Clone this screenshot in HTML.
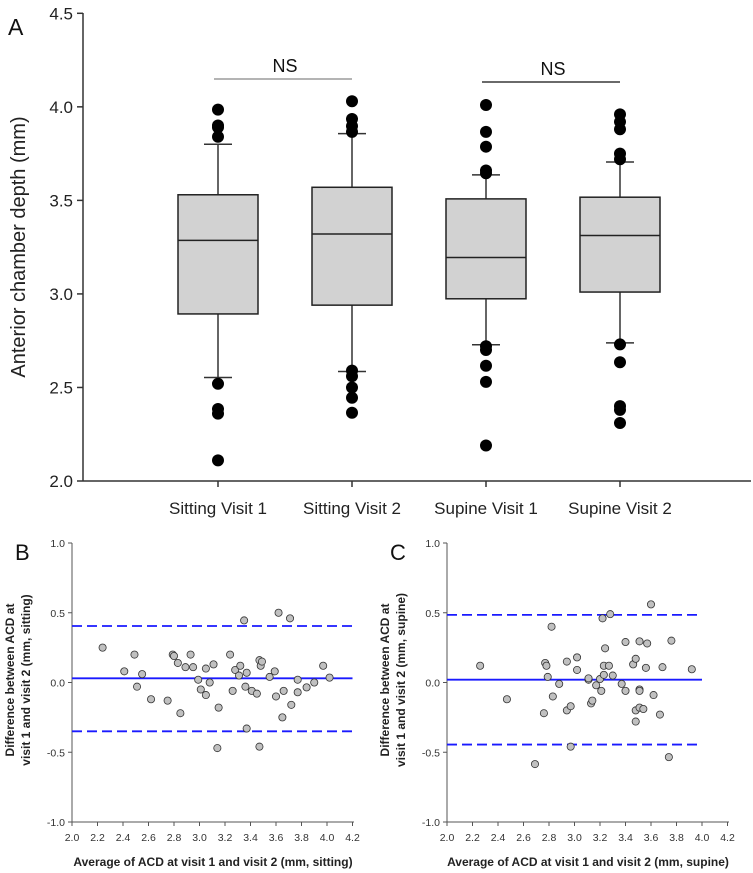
<!DOCTYPE html>
<html><head><meta charset="utf-8"><style>
body{margin:0;background:#fff}
svg{display:block;font-family:"Liberation Sans",Arial,sans-serif}
</style></head><body>
<svg id="chart" width="753" height="873" viewBox="0 0 753 873" xmlns="http://www.w3.org/2000/svg"></svg>
<script>
// Panel A data
const catLabels = ["Sitting Visit 1","Sitting Visit 2","Supine Visit 1","Supine Visit 2"];
const q1s = [2.893,2.94,2.974,3.010];
const medians = [3.286,3.32,3.195,3.312];
const q3s = [3.53,3.57,3.508,3.517];
const whiskLo = [2.553,2.585,2.728,2.738];
const whiskHi = [3.80,3.857,3.636,3.705];
const outliers = [
 [3.985,3.90,3.89,3.84,2.52,2.385,2.36,2.11],
 [4.03,3.935,3.897,3.866,2.59,2.56,2.50,2.445,2.365],
 [4.01,3.866,3.787,3.66,3.645,2.72,2.70,2.616,2.53,2.19],
 [3.96,3.92,3.88,3.75,3.72,2.73,2.635,2.40,2.38,2.31]
];
const yTicksA = [2.0,2.5,3.0,3.5,4.0,4.5];
// Panel B data
const bX = [2.24,2.41,2.49,2.51,2.55,2.62,2.75,2.79,2.80,2.83,2.85,2.89,2.93,2.95,2.99,3.01,3.05,3.05,3.08,3.11,3.14,3.15,3.24,3.26,3.28,3.31,3.32,3.35,3.37,3.36,3.37,3.41,3.45,3.47,3.48,3.49,3.47,3.55,3.59,3.60,3.62,3.65,3.66,3.71,3.72,3.77,3.77,3.84,3.90,3.97,4.02];
const bY = [0.25,0.08,0.20,-0.03,0.06,-0.12,-0.13,0.20,0.19,0.14,-0.22,0.11,0.20,0.11,0.02,-0.05,0.10,-0.09,0.00,0.13,-0.47,-0.18,0.20,-0.06,0.09,0.05,0.12,0.445,0.07,-0.03,-0.33,-0.06,-0.08,0.16,0.12,0.15,-0.46,0.04,0.08,-0.10,0.50,-0.25,-0.06,0.46,-0.16,-0.07,0.02,-0.035,0.00,0.12,0.035];
const bLines = [0.03,0.405,-0.35];
// Panel C data
const cX = [2.26,2.47,2.69,2.76,2.77,2.78,2.79,2.82,2.83,2.88,2.94,2.94,2.97,2.97,3.02,3.02,3.11,3.11,3.13,3.14,3.17,3.20,3.21,3.22,3.23,3.23,3.24,3.27,3.28,3.30,3.37,3.40,3.40,3.46,3.48,3.48,3.48,3.51,3.51,3.51,3.51,3.54,3.56,3.57,3.60,3.62,3.67,3.69,3.74,3.76,3.92];
const cY = [0.12,-0.12,-0.585,-0.22,0.14,0.12,0.04,0.40,-0.10,-0.01,0.15,-0.20,-0.17,-0.46,0.18,0.09,0.02,0.03,-0.15,-0.13,-0.02,0.025,-0.06,0.46,0.055,0.12,0.245,0.12,0.49,0.05,-0.01,0.29,-0.06,0.13,-0.20,0.17,-0.28,-0.05,0.295,-0.06,-0.18,-0.19,0.105,0.28,0.56,-0.09,-0.23,0.11,-0.535,0.30,0.095];
const cLines = [0.02,0.485,-0.445];
const xTicksBC = [2.0,2.2,2.4,2.6,2.8,3.0,3.2,3.4,3.6,3.8,4.0,4.2];
const yTicksBC = [-1.0,-0.5,0.0,0.5,1.0];

const NS = "http://www.w3.org/2000/svg";
const svg = document.getElementById('chart');
function mk(tag, attrs, parent){const e=document.createElementNS(NS,tag);for(const k in attrs)e.setAttribute(k,attrs[k]);(parent||svg).appendChild(e);return e;}
function txt(s, attrs, parent){const e=mk('text',attrs,parent);e.textContent=s;return e;}

// ---- Panel A ----
const gA = mk('g',{});


const yA = v => 481 - (v-2.0)/2.5*467.7;
const xA = i => 218 + i*134;
const ax = '#333';
mk('line',{x1:83,y1:13,x2:83,y2:481,stroke:ax,'stroke-width':1.5},gA);
mk('line',{x1:83,y1:481,x2:751,y2:481,stroke:ax,'stroke-width':1.5},gA);
yTicksA.forEach(t=>{
  mk('line',{x1:77,y1:yA(t),x2:83,y2:yA(t),stroke:ax,'stroke-width':1.5},gA);
  const l=txt(t.toFixed(1),{x:73,y:yA(t)+6,'text-anchor':'end','font-size':17,fill:'#222'},gA);
  
  
});
const yt=txt('Anterior chamber depth (mm)',{x:0,y:0,transform:'translate(25,247) rotate(-90)','text-anchor':'middle','font-size':20,fill:'#222'},gA);


const la=txt('A',{x:8,y:35,'font-size':23,fill:'#111'},gA);


catLabels.forEach((c,i)=>{
  const cx=xA(i);
  mk('line',{x1:cx,y1:481,x2:cx,y2:487,stroke:ax,'stroke-width':1.5},gA);
  const l=txt(c,{x:cx,y:514,'text-anchor':'middle','font-size':17,fill:'#222'},gA);
  
  
  const g=mk('g',{},gA);
  
  
  mk('line',{x1:cx,y1:yA(whiskHi[i]),x2:cx,y2:yA(whiskLo[i]),stroke:'#333','stroke-width':1.5},g);
  mk('line',{x1:cx-14,y1:yA(whiskHi[i]),x2:cx+14,y2:yA(whiskHi[i]),stroke:'#333','stroke-width':1.5},g);
  mk('line',{x1:cx-14,y1:yA(whiskLo[i]),x2:cx+14,y2:yA(whiskLo[i]),stroke:'#333','stroke-width':1.5},g);
  mk('rect',{x:cx-40,y:yA(q3s[i]),width:80,height:yA(q1s[i])-yA(q3s[i]),fill:'#d2d2d2',stroke:'#222','stroke-width':1.5},g);
  mk('line',{x1:cx-40,y1:yA(medians[i]),x2:cx+40,y2:yA(medians[i]),stroke:'#222','stroke-width':1.5},g);
  outliers[i].forEach(v=>{
    const o=mk('circle',{cx:cx,cy:yA(v),r:6,fill:'#000'},g);
    
    
  });
});
function nsBar(a,b,y,color){
  mk('line',{x1:xA(a)-4,y1:y,x2:xA(b),y2:y,stroke:color,'stroke-width':1.3},gA);
  const t=txt('NS',{x:(xA(a)+xA(b))/2,y:y-7,'text-anchor':'middle','font-size':18,fill:'#111'},gA);
  
  
}
nsBar(0,1,79,'#888');
nsBar(2,3,82,'#111');

// ---- Panels B & C ----
function bland(ox, xs, ys, lines, lineEnd, label, xlab, ylab2, name){
  const g=mk('g',{});
  
  
  const X = v => ox + (v-2.0)/2.2*280.5;
  const Y = v => 682.5 - v*139.5;
  mk('line',{x1:ox,y1:543,x2:ox,y2:822,stroke:'#555','stroke-width':1},g);
  mk('line',{x1:ox,y1:822,x2:ox+282,y2:822,stroke:'#555','stroke-width':1},g);
  yTicksBC.forEach(t=>{
    mk('line',{x1:ox-4,y1:Y(t),x2:ox,y2:Y(t),stroke:'#555'},g);
    const l=txt(t.toFixed(1),{x:ox-7,y:Y(t)+4,'text-anchor':'end','font-size':10.5,fill:'#333'},g);
    
    
  });
  xTicksBC.forEach(t=>{
    mk('line',{x1:X(t),y1:822,x2:X(t),y2:826,stroke:'#555'},g);
    const l=txt(t.toFixed(1),{x:X(t),y:841,'text-anchor':'middle','font-size':10.5,fill:'#333'},g);
    
    
  });
  lines.forEach((v,k)=>{
    const ln=mk('line',{x1:ox,y1:Y(v),x2:X(lineEnd),y2:Y(v),stroke:'#1a1aff','stroke-width':1.8},g);
    if(k>0) ln.setAttribute('stroke-dasharray','10,5');
    
    
  });
  xs.forEach((x,i)=>{
    const p=mk('circle',{cx:X(x),cy:Y(ys[i]),r:3.6,fill:'#c0c0c0',stroke:'#333','stroke-width':0.8},g);
    
    
  });
  const pl=txt(label,{x:ox-57,y:560,'font-size':22,fill:'#111'},g);
  
  
  const xl=txt(xlab,{x:ox+141,y:866,'text-anchor':'middle','font-size':12,'font-weight':'bold',fill:'#222'},g);
  
  
  const yl=txt('',{transform:'translate('+(ox-58)+',680) rotate(-90)','text-anchor':'middle','font-size':12,'font-weight':'bold',fill:'#222'},g);
  
  
  const t1=mk('tspan',{x:0,y:0},yl); t1.textContent='Difference between ACD at';
  const t2=mk('tspan',{x:0,y:16},yl); t2.textContent=ylab2;
}
bland(72,bX,bY,bLines,4.2,'B','Average of ACD at visit 1 and visit 2 (mm, sitting)','visit 1 and visit 2 (mm, sitting)','panel-b');
bland(447,cX,cY,cLines,4.0,'C','Average of ACD at visit 1 and visit 2 (mm, supine)','visit 1 and visit 2 (mm, supine)','panel-c');
</script>
</body></html>
